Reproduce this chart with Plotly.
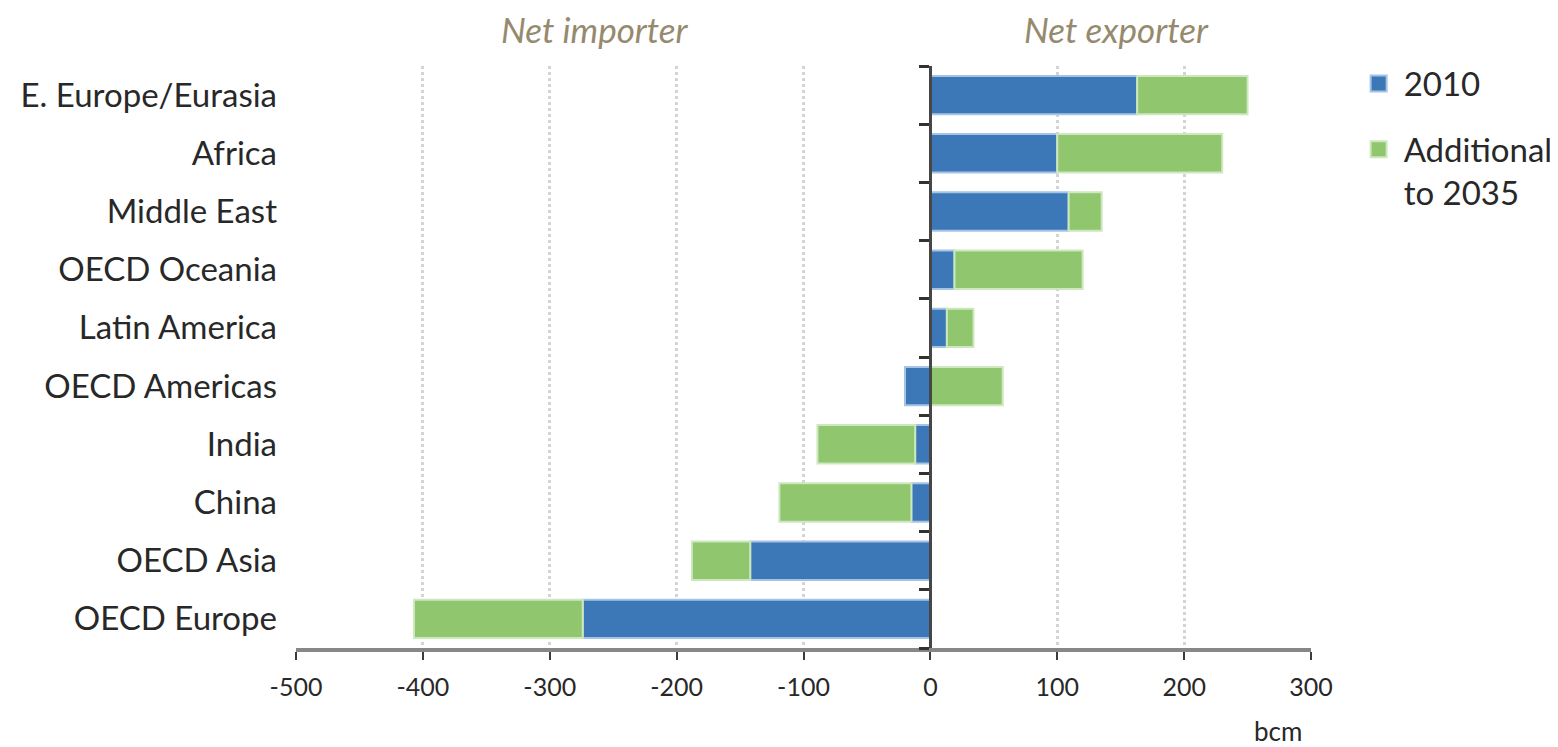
import plotly.graph_objects as go

regions = ["E. Europe/Eurasia", "Africa", "Middle East", "OECD Oceania", "Latin America",
           "OECD Americas", "India", "China", "OECD Asia", "OECD Europe"]
base_2010 = [163, 100, 109, 19, 13, -20, -12, -15, -142, -274]
additional_2035 = [87, 130, 26, 101, 21, 57, -77, -104, -46, -133]
x_ticks = [-500, -400, -300, -200, -100, 0, 100, 200, 300]

BLUE = "rgb(60,120,184)"
BLUE_EDGE = "rgb(165,195,228)"
GREEN = "rgb(143,198,110)"
GREEN_EDGE = "rgb(205,232,190)"
FONT = "Lato"
TXT = "rgb(40,40,40)"
NOTE = "rgb(150,138,110)"

fig = go.Figure()
fig.add_trace(go.Bar(y=regions, x=base_2010, orientation="h", name="2010",
                     marker=dict(color=BLUE, line=dict(color=BLUE_EDGE, width=2)),
                     width=0.66, showlegend=False))
fig.add_trace(go.Bar(y=regions, x=additional_2035, orientation="h", name="Additional<br>to 2035",
                     marker=dict(color=GREEN, line=dict(color=GREEN_EDGE, width=2)),
                     width=0.66, showlegend=False))
# legend proxies
fig.add_trace(go.Scatter(x=[None], y=[None], mode="markers", name="2010", legendgroup="a",
                         marker=dict(symbol="square", size=25, color=BLUE,
                                     line=dict(color=BLUE_EDGE, width=2))))
fig.add_trace(go.Scatter(x=[None], y=[None], mode="markers", name="Additional<br>to 2035",
                         legendgroup="b",
                         marker=dict(symbol="square", size=25, color=GREEN,
                                     line=dict(color=GREEN_EDGE, width=2))))
# invisible trace for the boundary-tick axis at zero
fig.add_trace(go.Bar(y=regions, x=[0] * len(regions), orientation="h", yaxis="y2",
                     showlegend=False, hoverinfo="skip", marker=dict(color="rgba(0,0,0,0)")))

fig.update_layout(
    barmode="relative",
    width=1550, height=739,
    paper_bgcolor="white", plot_bgcolor="white",
    margin=dict(l=288, r=247, t=58, b=99, autoexpand=False),
    font=dict(family=FONT, size=33, color=TXT),
    xaxis=dict(range=[-500, 300], tickvals=x_ticks, ticktext=[str(v) for v in x_ticks],
               showgrid=True, gridcolor="rgb(212,212,212)", griddash="dot", gridwidth=3,
               zeroline=False, showline=True, linecolor="rgb(135,135,135)", linewidth=4,
               ticks="outside", ticklen=8, tickwidth=2, tickcolor="rgb(60,60,60)",
               ticklabelstandoff=6, tickfont=dict(size=25, color=TXT)),
    yaxis=dict(categoryorder="array", categoryarray=regions[::-1],
               showline=False, ticks="", showgrid=False, zeroline=False,
               ticklabelstandoff=18, tickfont=dict(size=33, color=TXT)),
    yaxis2=dict(overlaying="y", matches="y", anchor="free", position=0.625,
                showline=True, linecolor="rgb(70,70,70)", linewidth=3,
                ticks="outside", tickson="boundaries", ticklen=10, tickwidth=3,
                tickcolor="rgb(50,50,50)", showticklabels=False, showgrid=False,
                categoryorder="array", categoryarray=regions[::-1]),
    legend=dict(x=1.042, y=1.018, xanchor="left", yanchor="top", bgcolor="rgba(0,0,0,0)",
                font=dict(size=33, color=TXT), tracegroupgap=20, itemwidth=40,
                valign="top"),
    bargap=0.34,
)

fig.add_annotation(x=-264, y=1.0, xref="x", yref="paper", yanchor="middle", yshift=37,
                   text="<i>Net importer</i>", showarrow=False,
                   font=dict(size=35, color=NOTE))
fig.add_annotation(x=147, y=1.0, xref="x", yref="paper", yanchor="middle", yshift=37,
                   text="<i>Net exporter</i>", showarrow=False,
                   font=dict(size=35, color=NOTE))
fig.add_annotation(x=1.0, y=0, xref="paper", yref="paper", xanchor="center", yanchor="middle",
                   xshift=-33, yshift=-83, text="bcm", showarrow=False,
                   font=dict(size=26, color=TXT))

fig.write_html("out.html")
